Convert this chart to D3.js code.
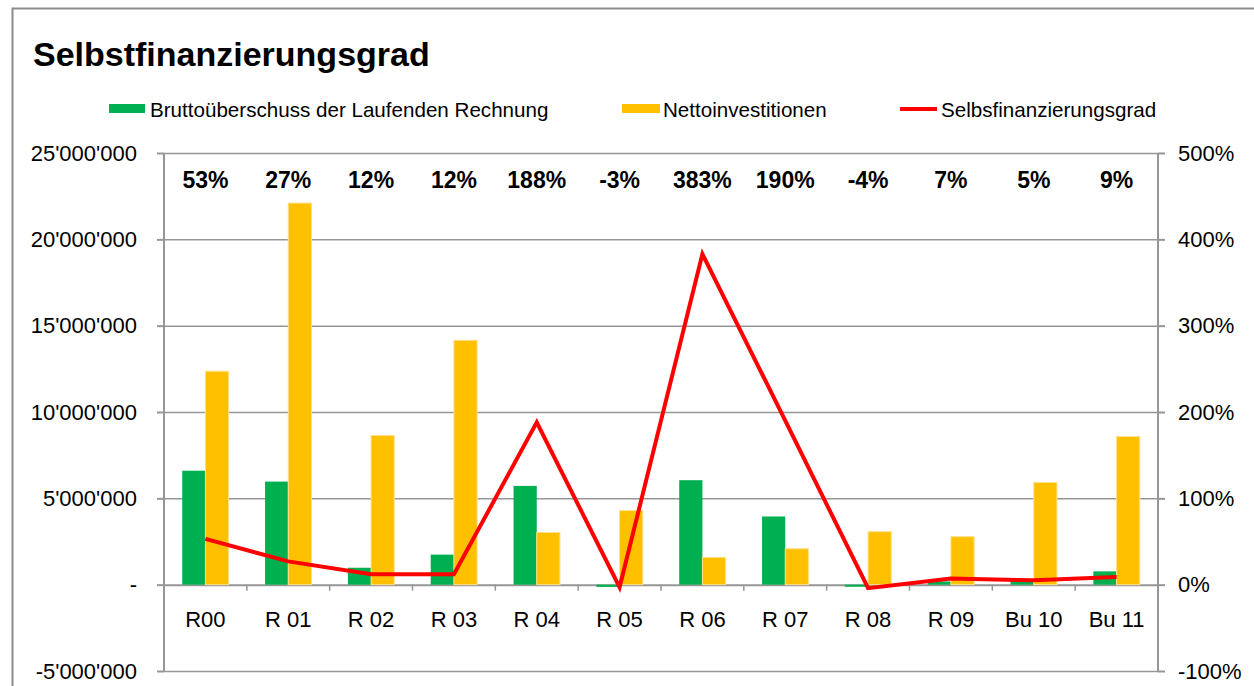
<!DOCTYPE html>
<html>
<head>
<meta charset="utf-8">
<script src="https://cdn.jsdelivr.net/npm/d3@7"></script>
<style>
  body { margin: 0; background: #fff; }
  svg { font-family: "Liberation Sans", Arial, sans-serif; }
</style>
</head>
<body>
<svg id="chart"></svg>
<script>
const categories = ['R00', 'R 01', 'R 02', 'R 03', 'R 04', 'R 05', 'R 06', 'R 07', 'R 08', 'R 09', 'Bu 10', 'Bu 11']
// Mio. CHF
const brutto = [6.6, 5.97, 0.98, 1.74, 5.72, -0.13, 6.05, 3.95, -0.12, 0.19, 0.26, 0.77]
const netto = [12.36, 22.1, 8.64, 14.15, 3.02, 4.29, 1.58, 2.08, 3.07, 2.78, 5.92, 8.58]
const grad = [53, 27, 12, 12, 188, -3, 383, 190, -4, 7, 5, 9]
const leftTicks = [-5, 0, 5, 10, 15, 20, 25]
const rightTicks = [-100, 0, 100, 200, 300, 400, 500]
const seriesNames = ['Bruttoüberschuss der Laufenden Rechnung', 'Nettoinvestitionen', 'Selbsfinanzierungsgrad']

const width = 1254
const height = 686
const margin = {top: 153, right: 96, bottom: 15, left: 164}
const colors = {green: '#00b050', yellow: '#ffc000', red: '#ff0000', grid: '#969696'}

const svg = d3.select('#chart')
    .attr('width', width)
    .attr('height', height)

// outer chart frame (right and bottom edges run off the picture)
svg.append('rect')
    .attr('x', 12.5).attr('y', 8.5)
    .attr('width', 1400).attr('height', 900)
    .attr('fill', 'none')
    .attr('stroke', '#8c8c8c')
    .attr('stroke-width', 2)

svg.append('text')
    .attr('x', 33).attr('y', 66)
    .attr('font-size', 34).attr('font-weight', 'bold')
    .text('Selbstfinanzierungsgrad')

const xScale = d3.scaleBand()
    .domain(categories)
    .range([margin.left, width - margin.right])
const bw = xScale.bandwidth()
const xSub = d3.scaleBand()
    .domain(['brutto', 'netto'])
    .range([bw * 0.22, bw * 0.78])
const yScale = d3.scaleLinear()
    .domain([-5, 25])
    .range([height - margin.bottom, margin.top])
const yRight = d3.scaleLinear()
    .domain([-100, 500])
    .range([height - margin.bottom, margin.top])

// gridlines
svg.append('g').selectAll('line').data(leftTicks)
    .enter().append('line')
    .attr('x1', margin.left).attr('x2', width - margin.right)
    .attr('y1', d => yScale(d) + 0.5).attr('y2', d => yScale(d) + 0.5)
    .attr('stroke', colors.grid)
    .attr('stroke-width', d => d === 0 ? 2 : 1.5)

// bars
const groups = svg.append('g').selectAll('g').data(categories)
    .enter().append('g')
    .attr('transform', d => `translate(${xScale(d)},0)`)
groups.append('rect')
    .attr('x', xSub('brutto'))
    .attr('width', xSub.bandwidth())
    .attr('y', (d, i) => yScale(Math.max(0, brutto[i])))
    .attr('height', (d, i) => Math.abs(yScale(brutto[i]) - yScale(0)))
    .attr('fill', colors.green)
groups.append('rect')
    .attr('x', xSub('netto'))
    .attr('width', xSub.bandwidth())
    .attr('y', (d, i) => yScale(Math.max(0, netto[i])))
    .attr('height', (d, i) => Math.abs(yScale(netto[i]) - yScale(0)))
    .attr('fill', colors.yellow)
    .attr('stroke', '#ffe08a')
    .attr('stroke-width', 1)

// left axis
const fmt = d => d === 0 ? '-' : d3.format(',')(d * 1e6).replace(/,/g, "'").replace('\u2212', '-')
const gl = svg.append('g')
    .attr('transform', `translate(${margin.left},0)`)
    .call(d3.axisLeft(yScale).tickValues(leftTicks).tickFormat(fmt).tickSize(7).tickPadding(20))
gl.select('.domain').remove()
gl.append('line')
    .attr('x1', 0).attr('x2', 0)
    .attr('y1', margin.top).attr('y2', height - margin.bottom)
gl.selectAll('line').attr('stroke', colors.grid).attr('stroke-width', 2)
gl.selectAll('text').attr('font-size', 22).attr('fill', '#000').attr('font-family', null)

// right axis
const gr = svg.append('g')
    .attr('transform', `translate(${width - margin.right},0)`)
    .call(d3.axisRight(yRight).tickValues(rightTicks).tickFormat(d => d + '%').tickSize(7).tickPadding(13))
gr.select('.domain').remove()
gr.append('line')
    .attr('x1', 0).attr('x2', 0)
    .attr('y1', margin.top).attr('y2', height - margin.bottom)
gr.selectAll('line').attr('stroke', colors.grid).attr('stroke-width', 2)
gr.selectAll('text').attr('font-size', 22).attr('fill', '#000').attr('font-family', null)

// category axis at zero
const gx = svg.append('g')
    .attr('transform', `translate(0,${yScale(0)})`)
gx.selectAll('line').data(categories.slice(1))
    .enter().append('line')
    .attr('x1', d => xScale(d)).attr('x2', d => xScale(d))
    .attr('y1', 0).attr('y2', 6)
    .attr('stroke', colors.grid).attr('stroke-width', 1.5)
gx.selectAll('text').data(categories)
    .enter().append('text')
    .attr('x', d => xScale(d) + bw / 2)
    .attr('y', 42)
    .attr('text-anchor', 'middle')
    .attr('font-size', 22)
    .text(d => d)

// line
const line = d3.line()
    .x((d, i) => xScale(categories[i]) + bw / 2)
    .y(d => yRight(d))
svg.append('path')
    .datum(grad)
    .attr('d', line)
    .attr('fill', 'none')
    .attr('stroke', colors.red)
    .attr('stroke-width', 4)
    .attr('stroke-linejoin', 'miter')

// percent labels
svg.append('g').selectAll('text').data(grad)
    .enter().append('text')
    .attr('x', (d, i) => xScale(categories[i]) + bw / 2)
    .attr('y', 188)
    .attr('text-anchor', 'middle')
    .attr('font-size', 23)
    .attr('font-weight', 'bold')
    .text(d => d + '%')

// legend
const legend = svg.append('g').attr('font-size', 20.6)
const lx = [109, 622, 900]
legend.append('rect').attr('x', lx[0]).attr('y', 104).attr('width', 36).attr('height', 9).attr('fill', colors.green)
legend.append('rect').attr('x', lx[1]).attr('y', 104).attr('width', 38).attr('height', 9).attr('fill', colors.yellow)
legend.append('line').attr('x1', lx[2]).attr('x2', lx[2] + 37).attr('y1', 109).attr('y2', 109)
    .attr('stroke', colors.red).attr('stroke-width', 4)
legend.selectAll('text').data(seriesNames)
    .enter().append('text')
    .attr('x', (d, i) => [150, 663, 941][i])
    .attr('y', 117)
    .text(d => d)
</script>
</body>
</html>
